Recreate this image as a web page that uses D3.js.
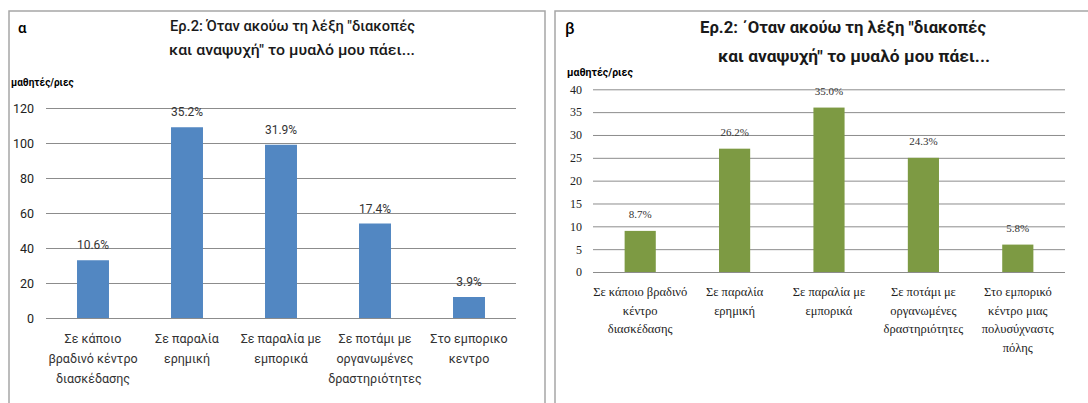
<!DOCTYPE html>
<html>
<head>
<meta charset="utf-8">
<script src="https://cdn.jsdelivr.net/npm/d3@7"></script>
<style>
  body { margin: 0; background: #fff; }
  svg { display: block; }
</style>
</head>
<body>
<div id="chart"></div>
<script>
var svgWidth = 1088;
var svgHeight = 403;

// Data
var categoriesA = [
    ["Σε κάποιο", "βραδινό κέντρο", "διασκέδασης"],
    ["Σε παραλία", "ερημική"],
    ["Σε παραλία με", "εμπορικά"],
    ["Σε ποτάμι με", "οργανωμένες", "δραστηριότητες"],
    ["Στο εμπορικο", "κεντρο"]
];
var valuesA = [33, 109, 99, 54, 12];
var percentA = ["10.6%", "35.2%", "31.9%", "17.4%", "3.9%"];
var ticksA = [0, 20, 40, 60, 80, 100, 120];

var categoriesB = [
    ["Σε κάποιο βραδινό", "κέντρο", "διασκέδασης"],
    ["Σε παραλία", "ερημική"],
    ["Σε παραλία με", "εμπορικά"],
    ["Σε ποτάμι με", "οργανωμένες", "δραστηριότητες"],
    ["Στο εμπορικό", "κέντρο μιας", "πολυσύχναστς", "πόλης"]
];
var valuesB = [9, 27, 36, 25, 6];
var percentB = ["8.7%", "26.2%", "35.0%", "24.3%", "5.8%"];
var ticksB = [0, 5, 10, 15, 20, 25, 30, 35, 40];

var svg = d3.select("#chart")
    .append("svg")
    .attr("width", svgWidth)
    .attr("height", svgHeight);

// ---------- panel α ----------
var panelA = svg.append("g");

panelA.append("rect")
    .attr("x", 9).attr("y", 11)
    .attr("width", 536).attr("height", 420)
    .attr("fill", "#fff")
    .attr("stroke", "#a6a6a6")
    .attr("stroke-width", 1.5);

panelA.append("text")
    .attr("x", 18).attr("y", 33)
    .attr("font-family", "Roboto")
    .attr("font-size", 15)
    .attr("font-weight", 500)
    .text("α");

var titleA = panelA.append("text")
    .attr("font-family", "Roboto")
    .attr("font-size", 15)
    .attr("font-weight", 500)
    .attr("fill", "#1a1a1a");
titleA.append("tspan").attr("x", 170).attr("y", 31)
    .attr("textLength", 245).attr("lengthAdjust", "spacingAndGlyphs")
    .text("Ερ.2: Όταν ακούω τη λέξη \"διακοπές");
titleA.append("tspan").attr("x", 169).attr("y", 55)
    .attr("textLength", 246).attr("lengthAdjust", "spacingAndGlyphs")
    .text("και αναψυχή\" το μυαλό μου πάει...");

panelA.append("text")
    .attr("x", 11).attr("y", 86)
    .attr("font-family", "Roboto")
    .attr("font-size", 10)
    .attr("font-weight", 700)
    .text("μαθητές/ριες");

var xA = d3.scaleBand()
    .domain(d3.range(categoriesA.length))
    .range([46, 516]);
var yA = d3.scaleLinear()
    .domain([0, 120])
    .range([318, 108]);
var barWA = xA.bandwidth() * 0.34;

var axisLeftA = d3.axisLeft(yA).tickValues(ticksA).tickSize(-470).tickPadding(12);
panelA.append("g")
    .attr("transform", "translate(46,0)")
    .call(axisLeftA)
    .call(g => g.select(".domain").remove())
    .call(g => g.selectAll(".tick line").attr("stroke", "#8c8c8c"))
    .call(g => g.selectAll(".tick text")
        .attr("font-family", "Roboto")
        .attr("font-size", 12.5)
        .attr("fill", "#222"));

panelA.selectAll("rect.bar")
    .data(valuesA)
    .enter()
    .append("rect")
    .attr("class", "bar")
    .attr("x", (d, i) => xA(i) + (xA.bandwidth() - barWA) / 2)
    .attr("y", d => yA(d))
    .attr("width", barWA)
    .attr("height", d => yA(0) - yA(d))
    .attr("fill", "#5287c2");

panelA.selectAll("text.pct")
    .data(valuesA)
    .enter()
    .append("text")
    .attr("class", "pct")
    .attr("x", (d, i) => xA(i) + xA.bandwidth() / 2)
    .attr("y", d => yA(d) - 11)
    .attr("text-anchor", "middle")
    .attr("font-family", "Roboto")
    .attr("font-size", 12)
    .attr("fill", "#333")
    .text((d, i) => percentA[i]);

categoriesA.forEach(function(lines, i) {
    var t = panelA.append("text")
        .attr("text-anchor", "middle")
        .attr("font-family", "Roboto")
        .attr("font-size", 12.5)
        .attr("fill", "#333");
    lines.forEach(function(line, j) {
        t.append("tspan")
            .attr("x", xA(i) + xA.bandwidth() / 2)
            .attr("y", 343 + j * 20)
            .text(line);
    });
});

// ---------- panel β ----------
var panelB = svg.append("g");

panelB.append("rect")
    .attr("x", 555).attr("y", 11)
    .attr("width", 560).attr("height", 420)
    .attr("fill", "#fff")
    .attr("stroke", "#a6a6a6")
    .attr("stroke-width", 1.5);

panelB.append("text")
    .attr("x", 565).attr("y", 34)
    .attr("font-family", "Roboto")
    .attr("font-size", 16)
    .attr("font-weight", 500)
    .text("β");

var titleB = panelB.append("text")
    .attr("font-family", "Roboto")
    .attr("font-size", 17)
    .attr("font-weight", 700)
    .attr("fill", "#1a1a1a");
titleB.append("tspan").attr("x", 700).attr("y", 33)
    .attr("textLength", 286).attr("lengthAdjust", "spacingAndGlyphs")
    .text("Ερ.2: ΄Οταν ακούω τη λέξη \"διακοπές");
titleB.append("tspan").attr("x", 718).attr("y", 62)
    .attr("textLength", 272).attr("lengthAdjust", "spacingAndGlyphs")
    .text("και αναψυχή\" το μυαλό μου πάει...");

panelB.append("text")
    .attr("x", 567).attr("y", 76)
    .attr("font-family", "Roboto")
    .attr("font-size", 10.5)
    .attr("font-weight", 700)
    .text("μαθητές/ριες");

var xB = d3.scaleBand()
    .domain(d3.range(categoriesB.length))
    .range([593, 1065]);
var yB = d3.scaleLinear()
    .domain([0, 40])
    .range([272, 89.3]);
var barWB = xB.bandwidth() * 0.33;

var axisLeftB = d3.axisLeft(yB).tickValues(ticksB).tickSize(-472).tickPadding(11);
panelB.append("g")
    .attr("transform", "translate(593,0)")
    .call(axisLeftB)
    .call(g => g.select(".domain").remove())
    .call(g => g.selectAll(".tick line").attr("stroke", "#8c8c8c"))
    .call(g => g.selectAll(".tick text")
        .attr("font-family", "Liberation Serif")
        .attr("font-size", 12)
        .attr("fill", "#222"));

panelB.selectAll("rect.bar")
    .data(valuesB)
    .enter()
    .append("rect")
    .attr("class", "bar")
    .attr("x", (d, i) => xB(i) + (xB.bandwidth() - barWB) / 2)
    .attr("y", d => yB(d))
    .attr("width", barWB)
    .attr("height", d => yB(0) - yB(d))
    .attr("fill", "#7d9a43");

panelB.selectAll("text.pct")
    .data(valuesB)
    .enter()
    .append("text")
    .attr("class", "pct")
    .attr("x", (d, i) => xB(i) + xB.bandwidth() / 2)
    .attr("y", d => yB(d) - 13)
    .attr("text-anchor", "middle")
    .attr("font-family", "Liberation Serif")
    .attr("font-size", 11)
    .attr("fill", "#333")
    .text((d, i) => percentB[i]);

categoriesB.forEach(function(lines, i) {
    var t = panelB.append("text")
        .attr("text-anchor", "middle")
        .attr("font-family", "Liberation Serif")
        .attr("font-size", 12.5)
        .attr("fill", "#222");
    lines.forEach(function(line, j) {
        t.append("tspan")
            .attr("x", xB(i) + xB.bandwidth() / 2)
            .attr("y", 296 + j * 18.7)
            .text(line);
    });
});
</script>
</body>
</html>
